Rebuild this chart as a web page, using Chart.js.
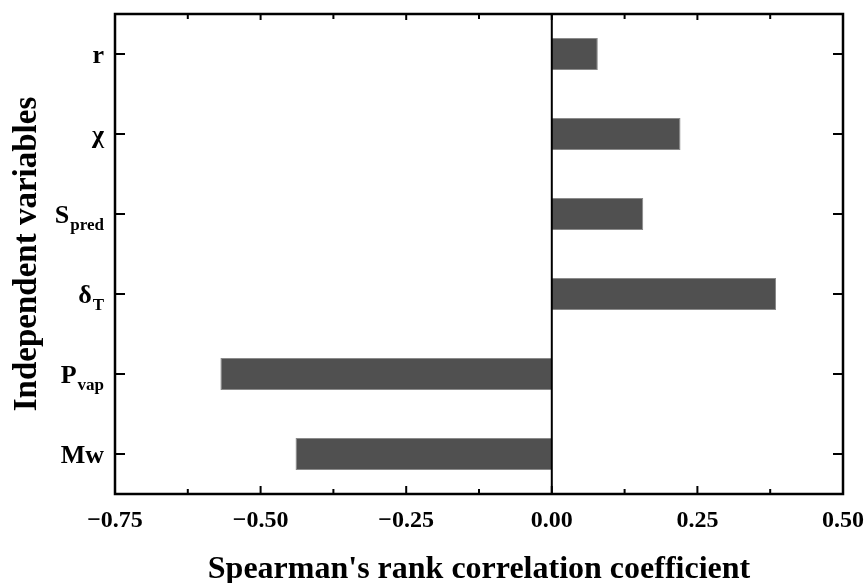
<!DOCTYPE html>
<html><head><meta charset="utf-8">
<script src="https://cdn.jsdelivr.net/npm/chart.js@4"></script>
<style>html,body{margin:0;padding:0;background:#fff}#wrap{width:867px;height:583px}</style>
</head><body><div id="wrap"><canvas id="c" width="867" height="583"></canvas></div>
<script>
// ---- data ----
const categories = ['r', 'χ', 'S_pred', 'δ_T', 'P_vap', 'Mw'];
const correlations = [0.079, 0.221, 0.157, 0.385, -0.569, -0.44];
const xTickValues = [-0.75, -0.5, -0.25, 0, 0.25, 0.5];
const xTickLabels = ['\u22120.75', '\u22120.50', '\u22120.25', '0.00', '0.25', '0.50'];
const xTitle = "Spearman's rank correlation coefficient";
const yTitle = 'Independent variables';

const FONT = "'Liberation Serif', 'Times New Roman', serif";

const framePlugin = {
  id: 'frame',
  afterDatasetsDraw(chart) {
    const {ctx, chartArea: a, scales: {x, y}} = chart;
    ctx.save();
    ctx.strokeStyle = '#000';
    // zero line
    const x0 = x.getPixelForValue(0);
    ctx.lineWidth = 2;
    ctx.beginPath(); ctx.moveTo(x0, a.top); ctx.lineTo(x0, a.bottom); ctx.stroke();
    // frame
    ctx.lineWidth = 2.5;
    ctx.strokeRect(a.left, a.top, a.right - a.left, a.bottom - a.top);
    // x ticks (inward, major + minor)
    ctx.lineWidth = 2;
    ctx.beginPath();
    const tv = x.ticks.map(t => t.value);
    tv.forEach((v, i) => {
      const px = x.getPixelForValue(v);
      ctx.moveTo(px, a.bottom); ctx.lineTo(px, a.bottom - 8);
      ctx.moveTo(px, a.top); ctx.lineTo(px, a.top + 6);
      if (i < tv.length - 1) {
        const m = x.getPixelForValue((v + tv[i + 1]) / 2);
        ctx.moveTo(m, a.bottom); ctx.lineTo(m, a.bottom - 5);
        ctx.moveTo(m, a.top); ctx.lineTo(m, a.top + 5);
      }
    });
    // y ticks
    categories.forEach((c, i) => {
      const py = y.getPixelForValue(i);
      ctx.moveTo(a.left, py); ctx.lineTo(a.left + 10, py);
      ctx.moveTo(a.right, py); ctx.lineTo(a.right - 10, py);
    });
    ctx.stroke();
    // y labels with subscripts
    ctx.fillStyle = '#000';
    ctx.textBaseline = 'alphabetic';
    ctx.textAlign = 'left';
    const mainFont = "bold 26px " + FONT;
    const subFont = "bold 17px " + FONT;
    const rightX = a.left - 11;
    categories.forEach((c, i) => {
      const py = y.getPixelForValue(i);
      const parts = c.split('_');
      const main = parts[0], sub = parts[1] || '';
      ctx.font = mainFont;
      const wm = ctx.measureText(main).width;
      ctx.font = subFont;
      const ws = sub ? ctx.measureText(sub).width + 1 : 0;
      const startX = rightX - wm - ws;
      const base = py + 9;
      ctx.font = mainFont;
      ctx.fillText(main, startX, base);
      if (sub) {
        ctx.font = subFont;
        ctx.fillText(sub, startX + wm + 1, base + 7);
      }
    });
    ctx.restore();
  }
};

new Chart(document.getElementById('c'), {
  type: 'bar',
  data: {
    labels: categories,
    datasets: [{
      data: correlations,
      backgroundColor: '#505050',
      borderColor: '#8a8a8a',
      borderWidth: 1,
      barPercentage: 0.4,
      categoryPercentage: 1.0
    }]
  },
  options: {
    indexAxis: 'y',
    responsive: false,
    animation: false,
    devicePixelRatio: 1,
    layout: {padding: {top: 14, right: 24, left: 0, bottom: 0}},
    plugins: {legend: {display: false}, tooltip: {enabled: false}},
    scales: {
      x: {
        type: 'linear',
        min: -0.75, max: 0.5,
        afterBuildTicks: (s) => { s.ticks = xTickValues.map(v => ({value: v})); },
        ticks: {
          autoSkip: false, maxRotation: 0, padding: 12,
          color: '#000',
          font: {family: FONT, size: 24, weight: 'bold'},
          callback: (v) => {
            const i = xTickValues.findIndex(t => Math.abs(t - v) < 1e-9);
            return i >= 0 ? xTickLabels[i] : '';
          }
        },
        grid: {display: false, drawTicks: false},
        border: {display: false},
        title: {
          display: true, text: xTitle, color: '#000',
          font: {family: FONT, size: 32, weight: 'bold', lineHeight: 0.8},
          padding: {top: 0, bottom: 0}
        },
        afterFit: (s) => { s.height = 89; s.paddingLeft = 0; s.paddingRight = 0; }
      },
      y: {
        ticks: {display: false},
        grid: {display: false, drawTicks: false},
        border: {display: false},
        title: {
          display: true, text: yTitle, color: '#000',
          font: {family: FONT, size: 33, weight: 'bold'},
          padding: {top: 8, bottom: 0}
        },
        afterFit: (s) => { s.width = 115; }
      }
    }
  },
  plugins: [framePlugin]
});
</script>
</body></html>
